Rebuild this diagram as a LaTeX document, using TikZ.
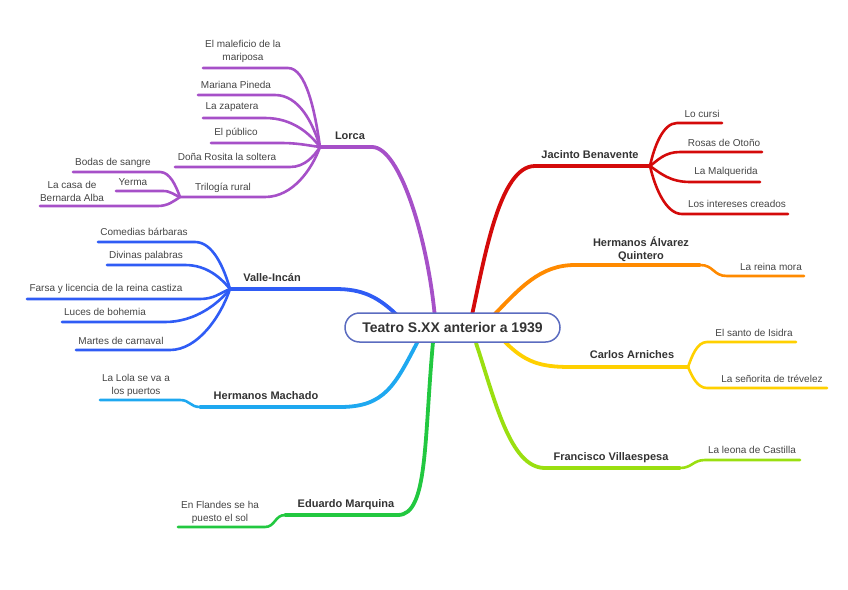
\documentclass[tikz,border=0pt]{standalone}
\usepackage{fontspec}
\setmainfont{Liberation Sans}
\definecolor{cLor}{HTML}{A650C8}
\definecolor{cVal}{HTML}{2F5CF5}
\definecolor{cMac}{HTML}{1EA8F0}
\definecolor{cMar}{HTML}{22C840}
\definecolor{cBen}{HTML}{D40A0A}
\definecolor{cQui}{HTML}{FF8A00}
\definecolor{cArn}{HTML}{FFD000}
\definecolor{cVil}{HTML}{9ADF10}
\definecolor{cCen}{HTML}{5B6CC0}
\definecolor{txt}{HTML}{333333}
\definecolor{ltxt}{HTML}{444444}
\tikzset{
  br/.style={line width=3.8pt, line cap=round, line join=round},
  lf/.style={line width=2.6pt, line cap=round, line join=round},
  leaf/.style={font=\fontsize{10}{13}\selectfont, text=ltxt, align=center, inner sep=0pt},
  lab/.style={font=\bfseries\fontsize{11}{12.5}\selectfont, text=txt, align=center, inner sep=0pt},
  centre/.style={draw=cCen, line width=1.5pt, fill=white, rounded corners=14.5pt,
    minimum width=215pt, minimum height=29pt, inner sep=0pt,
    font=\bfseries\fontsize{14}{16}\selectfont, text=txt},
}
\begin{document}
\begin{tikzpicture}[x=1pt,y=-1pt]
\useasboundingbox (0,0) rectangle (848,589);

% ---------------- Lorca ----------------
\coordinate (Lb) at (435,318);
\coordinate (Lk) at (372,147);
\coordinate (Lh) at (320,147);
\coordinate (T) at (180,197);
\coordinate (L1a) at (288,68);  \coordinate (L1b) at (203,68);
\coordinate (L2a) at (275,95);  \coordinate (L2b) at (198,95);
\coordinate (L3a) at (265,118); \coordinate (L3b) at (203,118);
\coordinate (L4a) at (280,143); \coordinate (L4b) at (211,143);
\coordinate (L5a) at (290,167); \coordinate (L5b) at (175,167);
\coordinate (L6a) at (265,197);
\coordinate (L7a) at (160,172); \coordinate (L7b) at (73,172);
\coordinate (L8a) at (163,191); \coordinate (L8b) at (116,191);
\coordinate (L9a) at (158,206); \coordinate (L9b) at (40,206);
\draw[br,cLor] (Lb) .. controls (428,240) and (400,147) .. (Lk) -- (Lh);
\draw[lf,cLor] (Lh) .. controls +(-5,-36) and +(18,0) .. (L1a) -- (L1b);
\draw[lf,cLor] (Lh) .. controls +(-7,-24) and +(24,0) .. (L2a) -- (L2b);
\draw[lf,cLor] (Lh) .. controls +(-10,-13) and +(28,0) .. (L3a) -- (L3b);
\draw[lf,cLor] (Lh) .. controls +(-15,-2) and +(18,0) .. (L4a) -- (L4b);
\draw[lf,cLor] (Lh) .. controls +(-6,9) and +(15,0) .. (L5a) -- (L5b);
\draw[lf,cLor] (Lh) .. controls +(-8,22) and +(28,0) .. (L6a) -- (T);
\draw[lf,cLor] (T) .. controls +(-4,-11) and +(10,0) .. (L7a) -- (L7b);
\draw[lf,cLor] (T) .. controls +(-6,-2) and +(8,0) .. (L8a) -- (L8b);
\draw[lf,cLor] (T) .. controls +(-6,4) and +(10,0) .. (L9a) -- (L9b);
\node[lab] (lorca) at (350,136) {Lorca};
\node[leaf] (n1) at (243,51.5) {El maleficio de la\\mariposa};
\node[leaf] (n2) at (236,85) {Mariana Pineda};
\node[leaf] (n3) at (232,107) {La zapatera};
\node[leaf] (n4) at (236,133) {El público};
\node[leaf] (n5) at (227,157) {Doña Rosita la soltera};
\node[leaf] (n6) at (223,188) {Trilogía rural};
\node[leaf] (n7) at (113,163) {Bodas de sangre};
\node[leaf] (n8) at (133,182) {Yerma};
\node[leaf] (n9) at (72,191.5) {La casa de\\Bernarda Alba};

% ---------------- Valle-Incán ----------------
\coordinate (Vb) at (400,318);
\coordinate (Vk) at (335,289);
\coordinate (Vh) at (230,289);
\coordinate (V1a) at (195,242); \coordinate (V1b) at (98,242);
\coordinate (V2a) at (185,265); \coordinate (V2b) at (107,265);
\coordinate (V3a) at (200,299); \coordinate (V3b) at (27,299);
\coordinate (V4a) at (165,322); \coordinate (V4b) at (62,322);
\coordinate (V5a) at (170,350); \coordinate (V5b) at (76,350);
\draw[br,cVal] (Vb) .. controls (378,296) and (362,289) .. (Vk) -- (Vh);
\draw[lf,cVal] (Vh) .. controls +(-6,-21) and +(18,0) .. (V1a) -- (V1b);
\draw[lf,cVal] (Vh) .. controls +(-9,-11) and +(22,0) .. (V2a) -- (V2b);
\draw[lf,cVal] (Vh) .. controls +(-10,4) and +(14,0) .. (V3a) -- (V3b);
\draw[lf,cVal] (Vh) .. controls +(-12,15) and +(30,0) .. (V4a) -- (V4b);
\draw[lf,cVal] (Vh) .. controls +(-9,27) and +(28,0) .. (V5a) -- (V5b);
\node[lab] (valle) at (272,278) {Valle-Incán};
\node[leaf] (v1) at (144,232) {Comedias bárbaras};
\node[leaf] (v2) at (146,256) {Divinas palabras};
\node[leaf] (v3) at (106,289) {Farsa y licencia de la reina castiza};
\node[leaf] (v4) at (105,312) {Luces de bohemia};
\node[leaf] (v5) at (121,341) {Martes de carnaval};

% ---------------- Hermanos Machado ----------------
\coordinate (Mb) at (418,341);
\coordinate (Mk) at (340,407);
\coordinate (Mh) at (200,407);
\coordinate (M1a) at (180,400); \coordinate (M1b) at (100,400);
\draw[br,cMac] (Mb) .. controls (395,385) and (385,407) .. (Mk) -- (Mh);
\draw[lf,cMac] (Mh) .. controls +(-10,0) and +(10,0) .. (M1a) -- (M1b);
\node[lab] (machado) at (266,396) {Hermanos Machado};
\node[leaf] (m1) at (136,385.5) {La Lola se va a\\los puertos};

% ---------------- Eduardo Marquina ----------------
\coordinate (Eb) at (433,342);
\coordinate (Ek) at (398,515);
\coordinate (Eh) at (285,515);
\coordinate (E1a) at (265,527); \coordinate (E1b) at (178,527);
\draw[br,cMar] (Eb) .. controls (424,440) and (428,515) .. (Ek) -- (Eh);
\draw[lf,cMar] (Eh) .. controls +(-10,0) and +(10,0) .. (E1a) -- (E1b);
\node[lab] (marquina) at (346,505) {Eduardo Marquina};
\node[leaf] (e1) at (220,512.5) {En Flandes se ha\\puesto el sol};

% ---------------- Jacinto Benavente ----------------
\coordinate (Bb) at (472,315);
\coordinate (Bk) at (535,166);
\coordinate (Bh) at (650,166);
\coordinate (B1a) at (677,123); \coordinate (B1b) at (722,123);
\coordinate (B2a) at (680,152); \coordinate (B2b) at (762,152);
\coordinate (B3a) at (690,182); \coordinate (B3b) at (760,182);
\coordinate (B4a) at (682,214); \coordinate (B4b) at (788,214);
\draw[br,cBen] (Bb) .. controls (485,255) and (500,166) .. (Bk) -- (Bh);
\draw[lf,cBen] (Bh) .. controls +(4,-19) and +(-14,0) .. (B1a) -- (B1b);
\draw[lf,cBen] (Bh) .. controls +(8,-6) and +(-15,0) .. (B2a) -- (B2b);
\draw[lf,cBen] (Bh) .. controls +(10,7) and +(-20,0) .. (B3a) -- (B3b);
\draw[lf,cBen] (Bh) .. controls +(5,22) and +(-16,0) .. (B4a) -- (B4b);
\node[lab] (benavente) at (590,155) {Jacinto Benavente};
\node[leaf] (b1) at (702,114) {Lo cursi};
\node[leaf] (b2) at (724,143) {Rosas de Otoño};
\node[leaf] (b3) at (726,172) {La Malquerida};
\node[leaf] (b4) at (737,204) {Los intereses creados};

% ---------------- Hermanos Álvarez Quintero ----------------
\coordinate (Qb) at (493,316);
\coordinate (Qk) at (575,265);
\coordinate (Qh) at (700,265);
\coordinate (Q1a) at (727,276); \coordinate (Q1b) at (804,276);
\draw[br,cQui] (Qb) .. controls (520,288) and (540,265) .. (Qk) -- (Qh);
\draw[lf,cQui] (Qh) .. controls +(14,0) and +(-14,0) .. (Q1a) -- (Q1b);
\node[lab] (quintero) at (641,249) {Hermanos Álvarez\\Quintero};
\node[leaf] (q1) at (771,267) {La reina mora};

% ---------------- Carlos Arniches ----------------
\coordinate (Ab) at (505,342);
\coordinate (Ak) at (570,367);
\coordinate (Ah) at (688,367);
\coordinate (A1a) at (707,342); \coordinate (A1b) at (796,342);
\coordinate (A2a) at (707,388); \coordinate (A2b) at (827,388);
\draw[br,cArn] (Ab) .. controls (525,362) and (540,367) .. (Ak) -- (Ah);
\draw[lf,cArn] (Ah) .. controls +(4,-11) and +(-10,0) .. (A1a) -- (A1b);
\draw[lf,cArn] (Ah) .. controls +(4,9) and +(-10,0) .. (A2a) -- (A2b);
\node[lab] (arniches) at (632,355) {Carlos Arniches};
\node[leaf] (a1) at (754,333) {El santo de Isidra};
\node[leaf] (a2) at (772,379) {La señorita de trévelez};

% ---------------- Francisco Villaespesa ----------------
\coordinate (Fb) at (476,343);
\coordinate (Fk) at (545,468);
\coordinate (Fh) at (680,468);
\coordinate (F1a) at (705,460); \coordinate (F1b) at (800,460);
\draw[br,cVil] (Fb) .. controls (495,400) and (510,468) .. (Fk) -- (Fh);
\draw[lf,cVil] (Fh) .. controls +(12,0) and +(-12,0) .. (F1a) -- (F1b);
\node[lab] (villaespesa) at (611,458) {Francisco Villaespesa};
\node[leaf] (f1) at (752,450) {La leona de Castilla};

% ---------------- centre ----------------
\node[centre] (C) at (452.5,327.5) {Teatro S.XX anterior a 1939};
\end{tikzpicture}
\end{document}
